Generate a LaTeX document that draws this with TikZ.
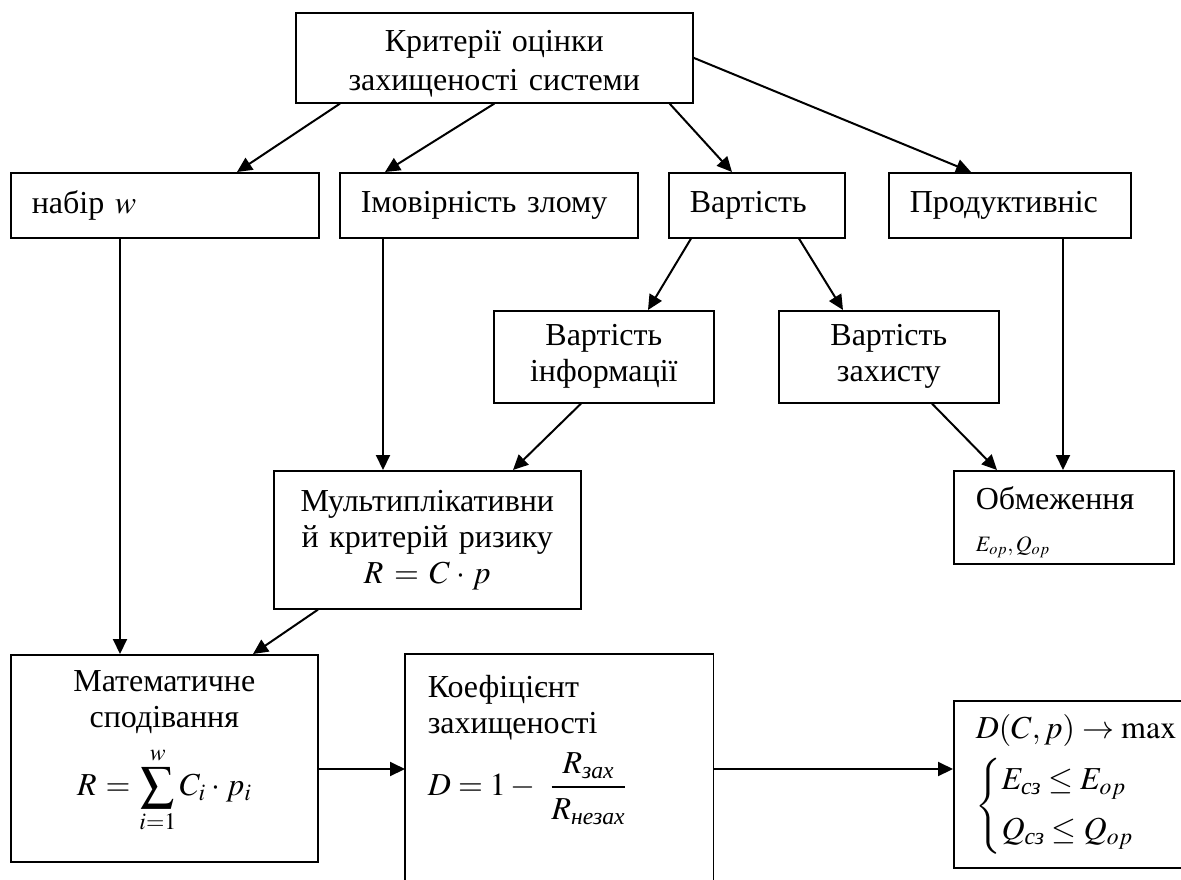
\documentclass[tikz,border=0pt]{standalone}
\usepackage{amsmath}
\usepackage{graphicx}
\usepackage{mathptmx}
\usepackage{fontspec}
\setmainfont{Liberation Serif}
\usetikzlibrary{arrows.meta}
\newcommand{\bigsum}{\mathop{\vcenter{\hbox{\scalebox{1.5}{$\sum$}}}}\limits}

\begin{document}
\begin{tikzpicture}[x=1pt,y=-1pt]
\tikzstyle{box}=[draw, line width=1.6pt, anchor=north west, inner xsep=21pt, inner ysep=0pt, font=\fontsize{32}{36}\selectfont]
\tikzstyle{arr}=[line width=2pt, -{Triangle[length=15pt,width=14pt]}]
\useasboundingbox (0,0) rectangle (1181,879);
\clip (0,0) rectangle (1181,879);
\node (crit) [box, minimum width=397pt, text width=355pt, minimum height=90pt, align=center] at (295,12) {\rule{0pt}{34pt}Критерії оцінки\\[3pt]захищеності системи};
\node (nabir) [box, minimum width=308pt, text width=266pt, minimum height=65pt, align=left] at (10,172) {набір~$w$};
\node (imov) [box, minimum width=298pt, text width=256pt, minimum height=65pt, align=left] at (339,172) {Імовірність злому};
\node (vart) [box, minimum width=176pt, text width=134pt, minimum height=65pt, align=left] at (668,172) {Вартість};
\node (prod) [box, minimum width=242pt, text width=200pt, minimum height=65pt, align=left] at (888,172) {Продуктивніс};
\node (vinf) [box, minimum width=220pt, text width=178pt, minimum height=92pt, align=center] at (493,310) {Вартість\\інформації};
\node (vzah) [box, minimum width=220pt, text width=178pt, minimum height=92pt, align=center] at (778,310) {Вартість\\захисту};
\node (mult) [box, inner xsep=8pt, minimum width=307pt, text width=291pt, minimum height=138pt, align=center] at (273,470) {Мультиплікативни\\й критерій ризику\\$R = C\cdot p$};
\node (obm) [box, inner xsep=22pt, minimum width=220pt, text width=176pt, minimum height=93pt, align=left] at (953,470) {\rule{0pt}{33pt}Обмеження\\[6pt]{\fontsize{22}{26}\selectfont $E_{op},Q_{op}$}};
\node (mat) [box, minimum width=307pt, text width=265pt, minimum height=207pt, align=center] at (10,654) {Математичне\\сподівання\\[12pt]$R=\bigsum_{i=1}^{w}C_i\cdot p_i$\rule[-50pt]{0pt}{0pt}};
\node (koef) [box, draw=none, inner xsep=22pt, inner ysep=20pt, minimum width=307pt, text width=263pt, align=left] at (405,654) {Коефіцієнт\\захищеності\\[12pt]$D=1-\ \dfrac{R_{\textit{зах}}\rule[-5pt]{0pt}{0pt}}{\rule{0pt}{28pt}R_{\textit{незах}}}$};
\draw[line width=1.6pt] ([yshift=-240pt]koef.north west) -- (koef.north west) -- (koef.north east) -- ([yshift=-240pt]koef.north east);
\node (opt) [box, inner xsep=22pt, minimum width=320pt, text width=276pt, minimum height=167pt, align=left] at (953,700) {$D(C,p)\rightarrow\max$\\[10pt]$\begin{cases}E_{\textit{сз}}\le E_{op}\\[7pt]Q_{\textit{сз}}\le Q_{op}\end{cases}$};
\coordinate (lvl) at (0,769);
\draw[arr] ([xshift=45pt]crit.south west) -- ([xshift=227pt]nabir.north west);
\draw[arr] (crit.south) -- ([xshift=46pt]imov.north west);
\draw[arr] ([xshift=-24pt]crit.south east) -- ([xshift=64pt]vart.north west);
\draw[arr] (crit.east) -- ([xshift=83pt]prod.north west);
\draw[arr] ([xshift=110pt]nabir.south west) -- ([xshift=110pt]nabir.south west |- mat.north);
\draw[arr] ([xshift=44pt]imov.south west) -- ([xshift=44pt]imov.south west |- mult.north);
\draw[arr] ([xshift=23pt]vart.south west) -- ([xshift=155pt]vinf.north west);
\draw[arr] ([xshift=131pt]vart.south west) -- ([xshift=65pt]vzah.north west);
\draw[arr] ([xshift=88pt]vinf.south west) -- ([xshift=240pt]mult.north west);
\draw[arr] ([xshift=154pt]vzah.south west) -- ([xshift=44pt]obm.north west);
\draw[arr] ([xshift=175pt]prod.south west) -- ([xshift=175pt]prod.south west |- obm.north);
\draw[arr] ([xshift=45pt]mult.south west) -- ([xshift=243pt]mat.north west);
\draw[arr] (mat.east |- lvl) -- (koef.north west |- lvl);
\draw[arr] (koef.north east |- lvl) -- (opt.west |- lvl);
\end{tikzpicture}
\end{document}
